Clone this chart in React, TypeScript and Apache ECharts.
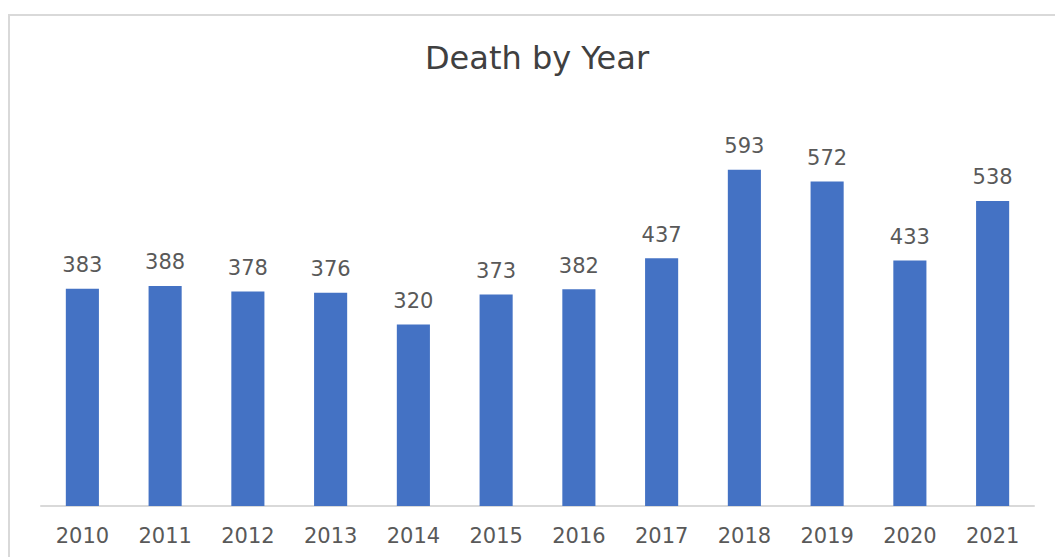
import React, { useEffect, useRef } from "react";
import * as echarts from "echarts";

const years = ["2010", "2011", "2012", "2013", "2014", "2015", "2016", "2017", "2018", "2019", "2020", "2021"];
const deaths = [383, 388, 378, 376, 320, 373, 382, 437, 593, 572, 433, 538];
const chartTitle = "Death by Year";

const FONT = "DejaVu Sans";

export default function App() {
  const ref = useRef<HTMLDivElement>(null);
  useEffect(() => {
    if (!ref.current) return;
    const chart = echarts.init(ref.current, null, { renderer: "svg" });
    chart.setOption({
      animation: false,
      backgroundColor: "#ffffff",
      textStyle: { fontFamily: FONT },
      graphic: [
        {
          type: "rect",
          shape: { x: 9, y: 15, width: 1200, height: 700 },
          style: { fill: "none", stroke: "#d9d9d9", lineWidth: 2 },
          silent: true,
          z: -1,
        },
        {
          type: "text",
          x: 537,
          y: 58,
          style: {
            text: chartTitle,
            textAlign: "center",
            textVerticalAlign: "middle",
            fontSize: 32,
            fontFamily: FONT,
            fill: "#404040",
          },
        },
      ],
      grid: { left: 41, right: 21, top: 109, bottom: 51 },
      xAxis: {
        type: "category",
        data: years,
        axisLine: { lineStyle: { color: "#d9d9d9", width: 2 } },
        axisTick: { show: false },
        axisLabel: { fontSize: 21, color: "#595959", margin: 19, fontFamily: FONT },
      },
      yAxis: {
        type: "value",
        min: 0,
        max: 700,
        show: false,
        splitLine: { show: false },
      },
      series: [
        {
          type: "bar",
          data: deaths,
          barCategoryGap: "60%",
          itemStyle: { color: "#4472c4" },
          label: {
            show: true,
            position: "top",
            distance: 13,
            fontSize: 21,
            color: "#595959",
            fontFamily: FONT,
          },
        },
      ],
    });
    return () => chart.dispose();
  }, []);
  return <div ref={ref} style={{ position: "fixed", left: 0, top: 0, width: 1055, height: 557 }} />;
}
